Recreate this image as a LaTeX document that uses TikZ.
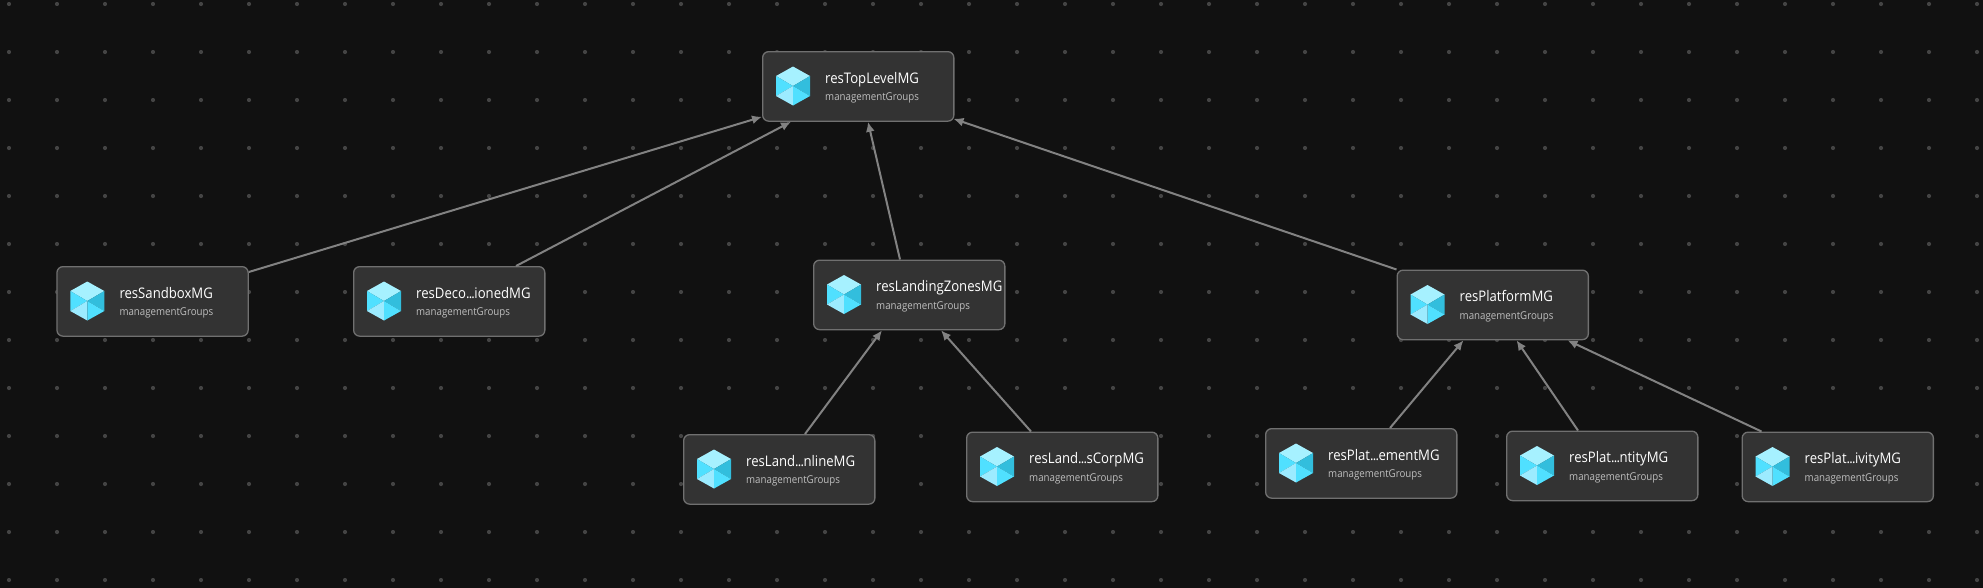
\documentclass[tikz,border=0pt]{standalone}
\usepackage{fontspec}
\setmainfont[FakeStretch=0.9]{Open Sans}
\usetikzlibrary{calc,arrows.meta}
\definecolor{bgc}{HTML}{111111}
\definecolor{dotc}{HTML}{444444}
\definecolor{boxc}{HTML}{333333}
\definecolor{boxl}{HTML}{707070}
\definecolor{edgec}{HTML}{828282}
\definecolor{subc}{HTML}{BEBEBE}
\definecolor{cubeA}{HTML}{A6F1FF}
\definecolor{cubeB}{HTML}{50E0FF}
\definecolor{cubeC}{HTML}{32BEDD}
\definecolor{cubeD}{HTML}{9CEBFF}
\newcommand{\dd}{.\kern-0.8pt.\kern-0.8pt.\kern-0.5pt}
\tikzset{
  x=1pt,y=-1pt,
  mgbox/.style={draw=boxl,line width=1.3pt,fill=boxc,rounded corners=6pt,minimum width=191.2pt,minimum height=69.5pt,inner sep=0pt,anchor=north west},
  mgtitle/.style={anchor=base west,inner sep=0pt,text=white,font=\fontsize{14.6}{18}\selectfont},
  mgsub/.style={anchor=base west,inner sep=0pt,text=subc,font=\fontsize{10.8}{14}\selectfont},
  edge/.style={draw=edgec,line width=2pt,-{Latex[length=10pt,width=9pt]}},
}
\newcommand{\mgnode}[4]{%
  \node[mgbox] (#1) at (#2,#3) {};
  \begin{scope}[shift={(#2+31,#3+35)}]
    \fill[cubeA] (0,-19.5) -- (17,-10) -- (0,0) -- (-17,-10) -- cycle;
    \fill[cubeB] (-17,-10) -- (0,0) -- (-17,10) -- cycle;
    \fill[cubeC] (17,-10) -- (0,0) -- (17,10) -- cycle;
    \fill[cubeD] (-17,10) -- (0,0) -- (0,19.5) -- cycle;
    \fill[cubeB] (17,10) -- (0,0) -- (0,19.5) -- cycle;
  \end{scope}
  \node[mgtitle] (#1t) at (#2+63,#3+32) {#4};
  \node[mgsub] (#1s) at (#2+63,#3+49.7) {managementGroups};
}
\begin{document}
\begin{tikzpicture}
\useasboundingbox (0,0) rectangle (1983,587);
\fill[bgc] (-5,-5) rectangle (1990,595);
\foreach \i in {0,...,41} \foreach \j in {0,...,12}
  \fill[dotc] (9+48*\i,4+48*\j) circle (2.1pt);
\mgnode{top}{762}{51}{resTopLevelMG}
\mgnode{sand}{56.3}{266}{resSandboxMG}
\mgnode{deco}{353}{266}{resDeco\dd ionedMG}
\mgnode{lz}{813}{259.5}{resLandingZonesMG}
\mgnode{plat}{1396.5}{269.5}{resPlatformMG}
\mgnode{onl}{683}{434}{resLand\dd nlineMG}
\mgnode{corp}{966}{431.5}{resLand\dd sCorpMG}
\mgnode{mgmt}{1265}{428}{resPlat\dd ementMG}
\mgnode{iden}{1506}{430.5}{resPlat\dd ntityMG}
\mgnode{conn}{1741.5}{431.5}{resPlat\dd ivityMG}
\draw[edge] ($(sand.north east)+(0,6)$) -- ($(top.south west)+(0,-5)$);
\draw[edge] ($(deco.north west)+(163,0)$) -- ($(top.south west)+(29,0)$);
\draw[edge] ($(lz.north west)+(87,0)$) -- ($(top.south west)+(106,0)$);
\draw[edge] (plat.north west) -- ($(top.south east)+(-1,-3)$);
\draw[edge] ($(onl.north west)+(122,0)$) -- ($(lz.south west)+(69,0)$);
\draw[edge] ($(corp.north west)+(65,0)$) -- ($(lz.south west)+(128,0)$);
\draw[edge] ($(mgmt.north west)+(125,0)$) -- ($(plat.south west)+(67,0)$);
\draw[edge] ($(iden.north west)+(72,0)$) -- ($(plat.south west)+(120,0)$);
\draw[edge] ($(conn.north west)+(20,0)$) -- ($(plat.south west)+(171,0)$);
\end{tikzpicture}
\end{document}
